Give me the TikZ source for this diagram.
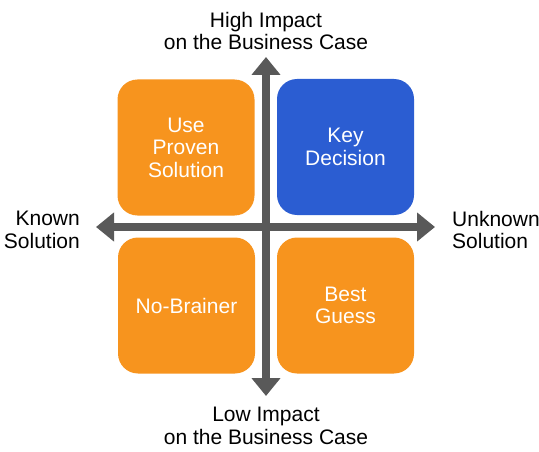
\documentclass[tikz,border=0pt]{standalone}
\usepackage{fontspec}
\setmainfont{Liberation Sans}
\usetikzlibrary{arrows.meta}
\definecolor{quadorange}{RGB}{247,148,30}
\definecolor{quadblue}{RGB}{43,93,210}
\definecolor{axisgray}{RGB}{89,89,89}

\begin{document}
\begin{tikzpicture}[
    x=1pt, y=-1pt,
    quad/.style={rounded corners=20pt, minimum width=137pt, minimum height=136pt,
      inner sep=0pt, align=center, text=white, font=\fontsize{21}{22.5}\selectfont},
    axislabel/.style={inner sep=0pt, font=\fontsize{21}{22.5}\selectfont},
    axisline/.style={axisgray, line width=8pt,
      {Triangle[width=28pt,length=18pt]}-{Triangle[width=28pt,length=18pt]}}
  ]
  % 画布范围
  \useasboundingbox (0,0) rectangle (539,452);
  % 四个象限
  \node[quad, fill=quadorange] (proven) at (186,147.5) {Use\\Proven\\Solution};
  \node[quad, fill=quadblue] (keydec) at (345.5,147) {Key\\Decision};
  \node[quad, fill=quadorange] (nobrain) at (186.5,305.5) {No-Brainer};
  \node[quad, fill=quadorange] (guess) at (345.5,305.5) {Best\\Guess};
  % 坐标轴端点
  \coordinate (top) at (266,57);
  \coordinate (bottom) at (266,396);
  \coordinate (left) at (96,227);
  \coordinate (right) at (435,227);
  % 绘制坐标轴
  \draw[axisline] (bottom) -- (top);
  \draw[axisline] (left) -- (right);
  % 轴标签
  \node[axislabel, anchor=north, align=center] (high) at (266,12) {High Impact\\on the Business Case};
  \node[axislabel, anchor=north, align=center] (low) at (266,407) {Low Impact\\on the Business Case};
  \node[axislabel, anchor=north east, align=right] (known) at (80,211) {Known\\Solution};
  \node[axislabel, anchor=north west, align=left] (unknown) at (452,211) {Unknown\\Solution};
\end{tikzpicture}
\end{document}
